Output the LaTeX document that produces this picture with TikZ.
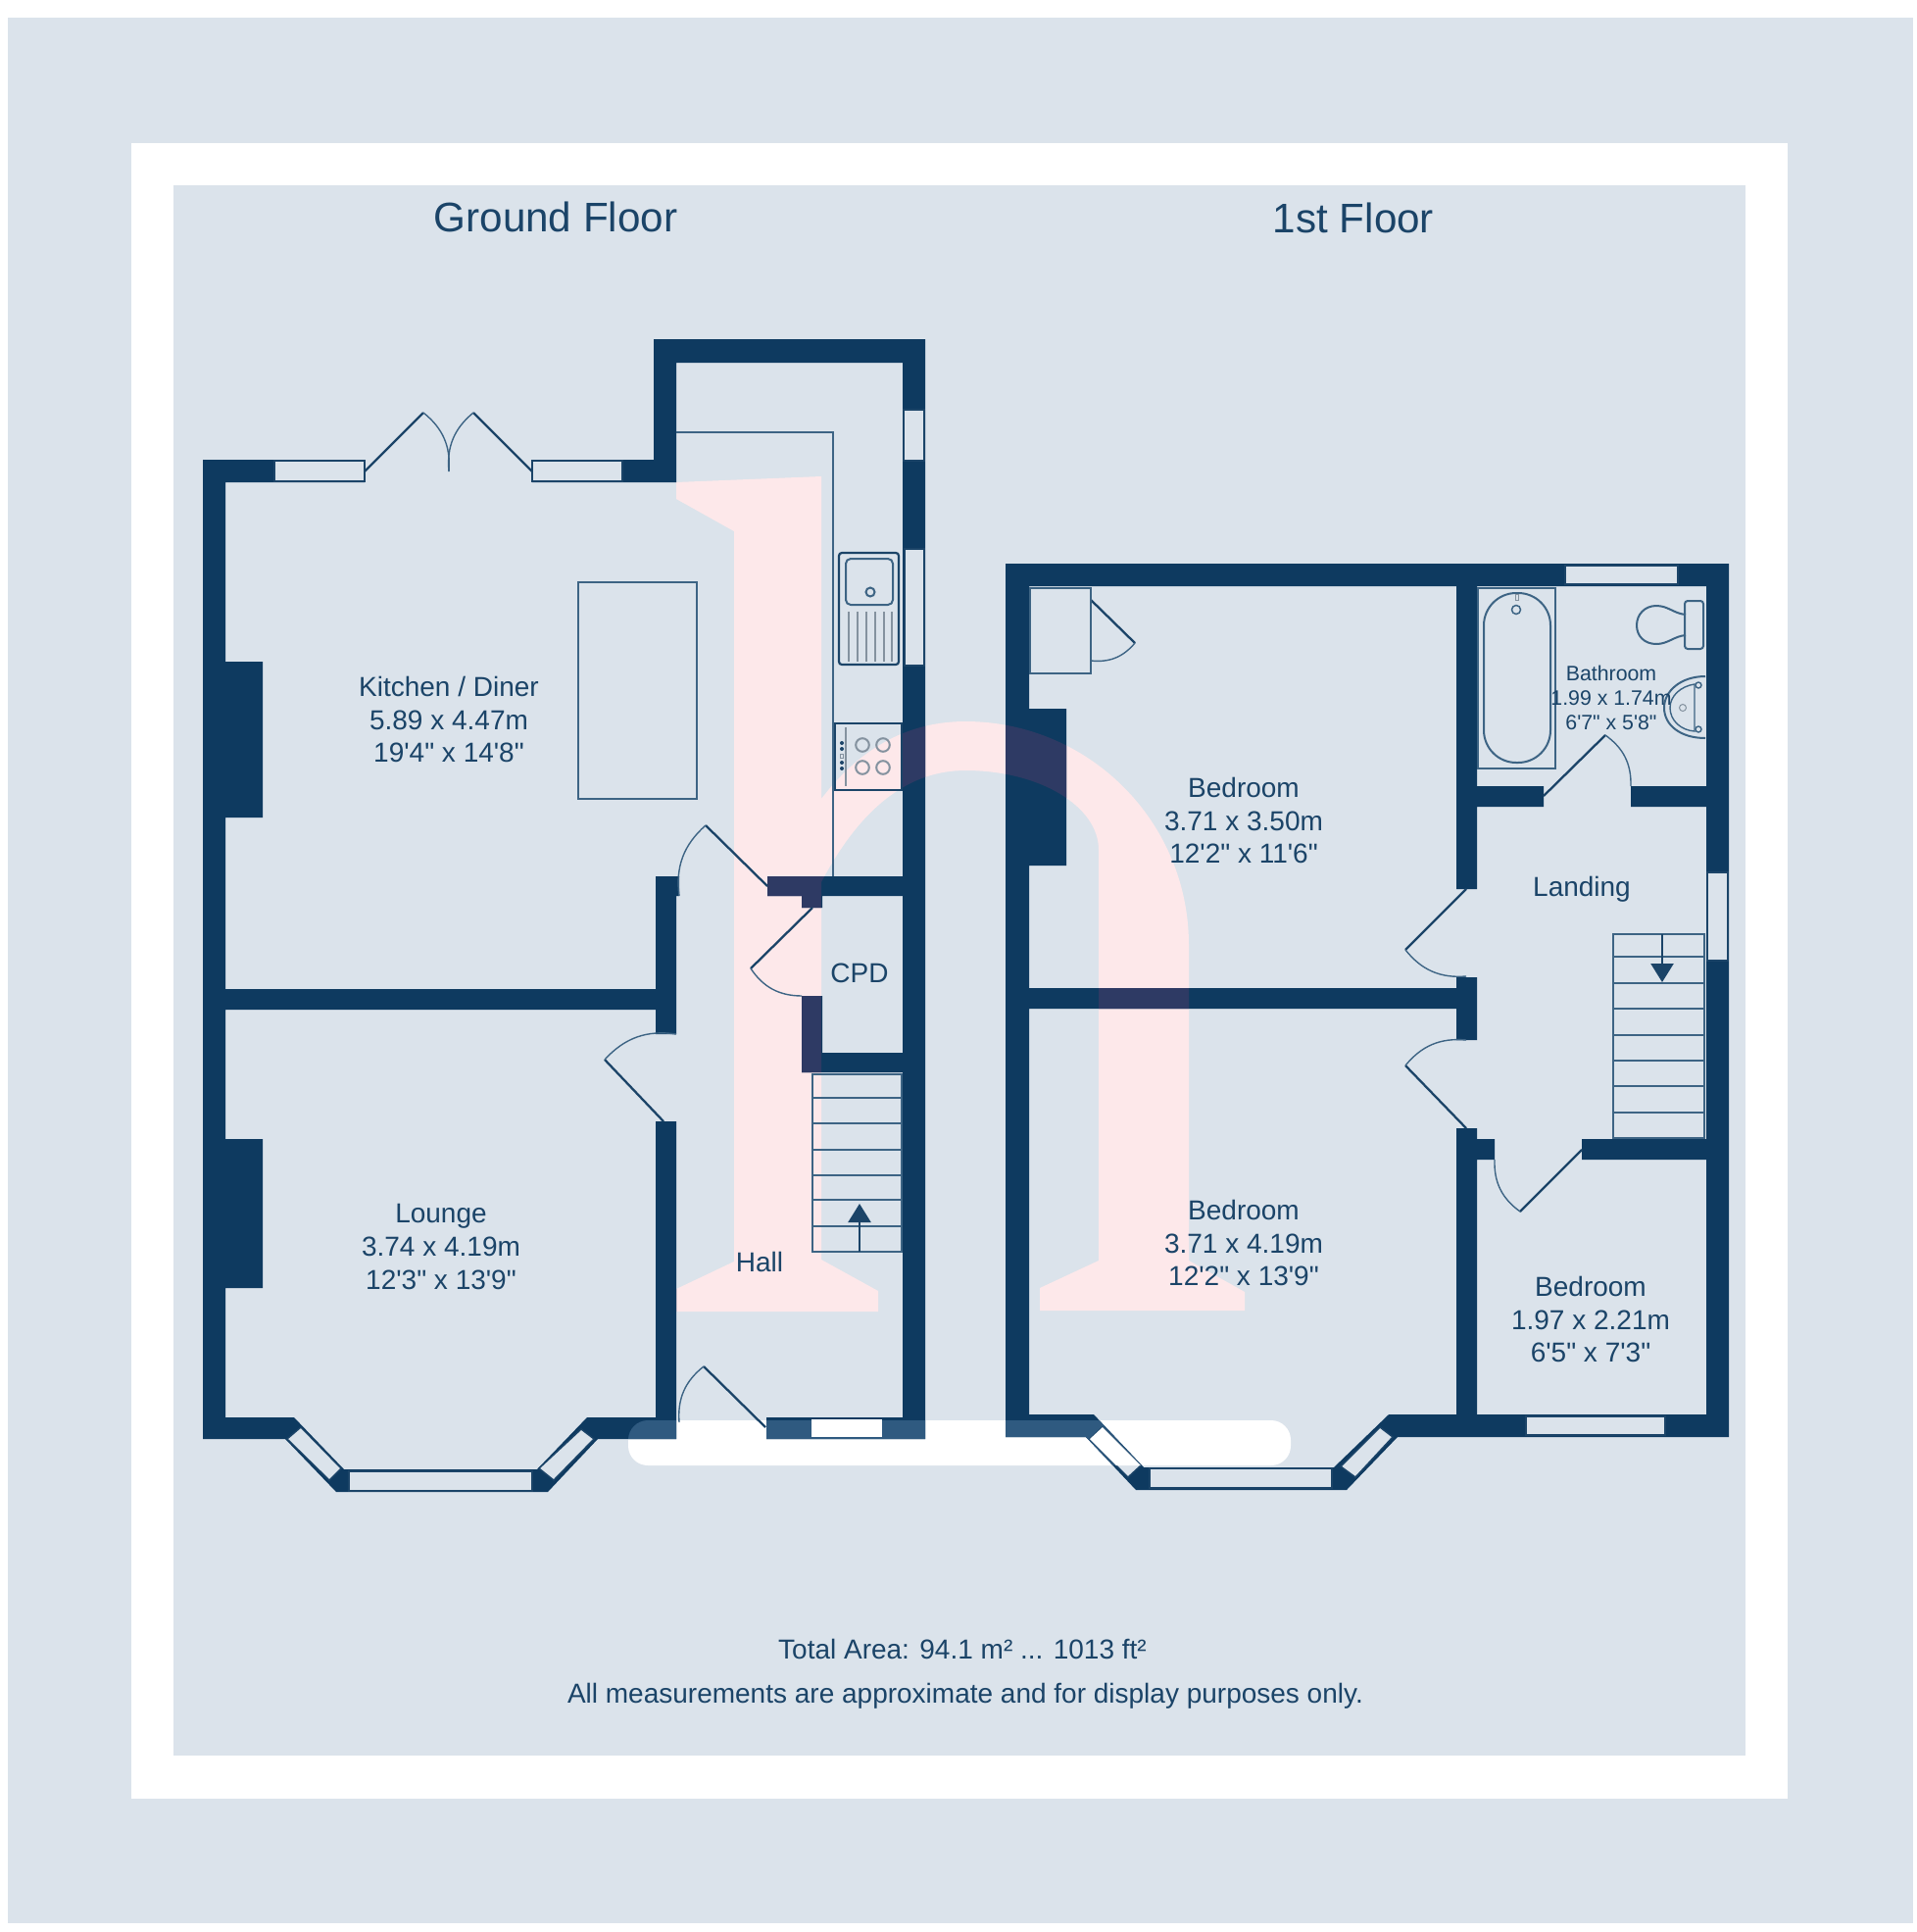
\documentclass[tikz,border=0pt]{standalone}
\usepackage{fontspec}
\usetikzlibrary{arrows.meta}
\newfontfamily\planfont{Liberation Sans}
\definecolor{panelcol}{HTML}{DBE3EB}
\definecolor{wallcol}{HTML}{0E3A60}
\definecolor{labelcol}{HTML}{1B4468}
\definecolor{linecol}{HTML}{3D6484}
\definecolor{graycol}{HTML}{84929F}
\definecolor{pinkcol}{HTML}{FDE8EA}
\definecolor{wallpink}{HTML}{2E3A64}
\definecolor{wallbar}{HTML}{2F5A80}
\tikzset{
  room/.style={align=center,inner sep=0pt,text=labelcol,font=\planfont\fontsize{28}{33.7}\selectfont},
  smallroom/.style={room,font=\planfont\fontsize{21.3}{25}\selectfont},
  title/.style={inner sep=0pt,text=labelcol,font=\planfont\fontsize{42.2}{50}\selectfont},
  note/.style={inner sep=0pt,text=labelcol,font=\planfont\fontsize{28}{33}\selectfont},
  thin line/.style={draw=linecol,line width=1.5pt},
  firm line/.style={draw=labelcol,line width=2.2pt},
  grey line/.style={draw=graycol,line width=1.7pt},
  leaf/.style={draw=labelcol,line width=2.3pt},
  swing/.style={draw=linecol,line width=1.4pt},
  glass/.style={fill=panelcol,draw=labelcol,line width=1.4pt},
  flight/.style={draw=labelcol,line width=2.4pt,-{Triangle[width=23pt,length=19pt]}}
}
\newcommand{\logopath}{
  (690,492) -- (838,486) -- (838,815) .. controls (880,760) and (930,736) .. (985,736)
  .. controls (1111,736) and (1213,838) .. (1213,964) -- (1213,1286) -- (1270,1318) -- (1270,1337)
  -- (1061,1337) -- (1061,1314) -- (1121,1286) -- (1121,867) .. controls (1121,822) and (1060,786) .. (985,786)
  .. controls (930,786) and (880,820) .. (838,900) -- (838,1285) -- (896,1317) -- (896,1338) -- (690,1338)
  -- (690,1315) -- (749,1287) -- (749,542) -- (690,509) -- cycle}
\newcommand{\barpath}{[rounded corners=20pt] (641,1449) rectangle (1317,1495)}
\newcommand{\allwalls}{
  (207,469) rectangle (230,1468) (207,469) rectangle (372,492) (543,469) rectangle (690,492)
  (667,346) rectangle (690,492) (667,346) rectangle (944,370) (921,346) rectangle (944,1468)
  (230,675) rectangle (268,834) (230,1162) rectangle (268,1314) (230,1009) rectangle (669,1030)
  (669,894) rectangle (690,1055) (669,894) rectangle (693,914) (669,1144) rectangle (690,1468)
  (783,894) rectangle (921,914) (818,914) rectangle (839,926) (818,1016) rectangle (839,1094)
  (818,1074) rectangle (921,1094) (782,1446) rectangle (921,1468)
  (207,1446) -- (207,1468) -- (291,1468) -- (343,1522) -- (559,1522) -- (610,1468) -- (690,1468)
  -- (690,1446) -- (599,1446) -- (548,1499) -- (351,1499) -- (300,1446) -- cycle
  (1026,575) rectangle (1764,598) (1026,575) rectangle (1050,1466) (1741,575) rectangle (1764,1466)
  (1486,575) rectangle (1507,907) (1486,997) rectangle (1507,1061) (1486,1151) rectangle (1507,1466)
  (1050,1008) rectangle (1486,1029) (1507,802) rectangle (1575,823) (1664,802) rectangle (1741,823)
  (1507,1162) rectangle (1525,1183) (1614,1162) rectangle (1741,1183) (1050,723) rectangle (1088,883)
  (1026,1443) -- (1026,1466) -- (1108,1466) -- (1159,1520) -- (1374,1520) -- (1426,1466) -- (1764,1466)
  -- (1764,1443) -- (1417,1443) -- (1361,1497) -- (1167,1497) -- (1116,1443) -- cycle}
\newcommand{\barewindow}{(1112,1468) -- (1125,1456) -- (1164,1495) -- (1151,1507) -- cycle}
\begin{document}
\begin{tikzpicture}[x=1pt,y=-1pt]
\useasboundingbox (0,0) rectangle (1956,1971);
\fill[white] (0,0) rectangle (1956,1971);
\fill[panelcol] (8,18) rectangle (1952,1962);
\fill[white] (134,146) rectangle (1824,1835);
\fill[panelcol] (177,189) rectangle (1781,1791);

\fill[pinkcol] \logopath;
\fill[white] \barpath;
\fill[wallcol] \allwalls;
\begin{scope}
\clip \logopath;
\fill[wallpink] \allwalls;
\end{scope}
\begin{scope}
\clip \barpath;
\fill[wallbar] \allwalls;
\end{scope}

\draw[glass] (280,470) rectangle (372,491);
\draw[glass] (543,470) rectangle (635,491);
\draw[glass] (922,418) rectangle (943,470);
\draw[glass] (923,560) rectangle (943,679);
\draw[glass] (293,1468) -- (307,1456) -- (348,1498) -- (336,1510) -- cycle;
\draw[glass] (606,1468) -- (593,1458) -- (550,1498) -- (565,1510) -- cycle;
\draw[glass] (356,1501) rectangle (543,1521);
\fill[white] (828,1448) rectangle (900,1466);
\draw[glass] (1597,577) rectangle (1712,596);
\draw[glass] (1742,890) rectangle (1763,980);
\draw[glass] (1557,1445) rectangle (1699,1464);
\draw[glass] \barewindow;
\begin{scope}
\clip \barpath;
\fill[white] \barewindow;
\end{scope}
\draw[glass] (1421,1466) -- (1408,1456) -- (1368,1496) -- (1383,1507) -- cycle;
\draw[glass] (1173,1498) rectangle (1359,1518);

\draw[leaf] (372,481) -- (432,421);
\draw[swing] (432,421) to[bend left=28] (458,481);
\draw[leaf] (543,481) -- (483,421);
\draw[swing] (483,421) to[bend right=28] (458,481);
\draw[leaf] (783,904) -- (720,842);
\draw[swing] (720,842) to[bend right=28] (693,914);
\draw[leaf] (829,926) -- (766,988);
\draw[swing] (766,988) to[bend right=28] (818,1016);
\draw[leaf] (677,1144) -- (617,1081);
\draw[swing] (617,1081) to[bend left=28] (690,1055);
\draw[leaf] (781,1456) -- (718,1394);
\draw[swing] (718,1394) to[bend right=28] (693,1451);
\draw[leaf] (1113,612) -- (1158,656);
\draw[swing] (1158,656) to[bend left=28] (1113,674);
\draw[leaf] (1575,812) -- (1638,750);
\draw[swing] (1638,750) to[bend left=28] (1664,802);
\draw[leaf] (1496,907) -- (1434,969);
\draw[swing] (1434,969) to[bend right=28] (1496,996);
\draw[leaf] (1496,1151) -- (1434,1087);
\draw[swing] (1434,1087) to[bend left=28] (1496,1061);
\draw[leaf] (1614,1173) -- (1551,1236);
\draw[swing] (1551,1236) to[bend left=28] (1525,1183);

\draw[thin line] (690,441) -- (850,441) -- (850,894);
\draw[thin line] (590,594) rectangle (711,815);
\draw[firm line,fill=panelcol,rounded corners=3pt] (856,564) rectangle (917,678);
\draw[thin line,line width=2pt,rounded corners=5pt] (863,570) rectangle (911,617);
\draw[thin line,line width=2pt] (888,604) circle (4.5pt);
\foreach \drainx in {866,875,884,893,902,910}
  \draw[grey line] (\drainx,624) -- (\drainx,675);
\draw[firm line] (852,738) rectangle (920,806);
\draw[grey line] (863,742) -- (863,802);
\foreach \dotsy in {758,764,778,784}
  \fill[labelcol] (859,\dotsy) circle (2pt);
\draw[grey line,line width=1pt] (857.5,769) rectangle (860.5,773);
\foreach \ringx in {880,901}
  \foreach \ringy in {760,783}
    \draw[grey line,line width=2pt] (\ringx,\ringy) circle (6.8pt);

\draw[thin line] (829,1096) rectangle (920,1277);
\foreach \treadg in {1120,1146,1173,1199,1224,1251}
  \draw[thin line] (829,\treadg) -- (920,\treadg);
\draw[flight] (877,1277) -- (877,1228);
\draw[thin line] (1646,953) rectangle (1739,1161);
\foreach \treadf in {976,1003,1029,1056,1082,1108,1135}
  \draw[thin line] (1646,\treadf) -- (1739,\treadf);
\draw[flight] (1696,953) -- (1696,1002);

\draw[thin line] (1051,600) rectangle (1113,687);
\draw[thin line,line width=2pt] (1508,600) rectangle (1587,784);
\draw[thin line,line width=2pt,rounded corners=33pt] (1514,605) rectangle (1582,778);
\draw[thin line] (1547,622) circle (4.5pt);
\draw[grey line,line width=1pt] (1546,606) rectangle (1549,612);
\draw[thin line,line width=2pt,rounded corners=3pt] (1719,613) rectangle (1738,662);
\draw[thin line,line width=2pt] (1720,627) .. controls (1708,626) and (1702,618) .. (1690,618) .. controls (1678,618) and (1670,627) .. (1670,638) .. controls (1670,649) and (1678,657) .. (1690,657) .. controls (1702,657) and (1708,649) .. (1720,648);
\draw[thin line,line width=2pt] (1740,690) .. controls (1715,690) and (1698,705) .. (1698,722) .. controls (1698,740) and (1715,753) .. (1740,753);
\draw[swing] (1729,698) .. controls (1715,700) and (1704,710) .. (1704,722) .. controls (1704,735) and (1715,745) .. (1729,746) -- cycle;
\draw[swing] (1733,699) circle (3pt) (1733,744) circle (3pt);
\draw[grey line,line width=1pt] (1717,722) circle (3.5pt);

\node[title] (groundtitle) at (567,221) {Ground Floor};
\node[title] (firsttitle) at (1381,222) {1st Floor};
\node[room] (kitchen) at (458,734) {Kitchen / Diner\\5.89 x 4.47m\\19'4" x 14'8"};
\node[room] (lounge) at (450,1272) {Lounge\\3.74 x 4.19m\\12'3" x 13'9"};
\node[room] (hall) at (775,1287) {Hall};
\node[room] (cpd) at (877,993) {CPD};
\node[room] (bedfront) at (1269,1268) {Bedroom\\3.71 x 4.19m\\12'2" x 13'9"};
\node[room] (bedback) at (1269,837) {Bedroom\\3.71 x 3.50m\\12'2" x 11'6"};
\node[room] (bedsmall) at (1623,1346) {Bedroom\\1.97 x 2.21m\\6'5" x 7'3"};
\node[room] (landing) at (1614,907) {Landing};
\node[smallroom] (bathroom) at (1644,712) {Bathroom\\1.99 x 1.74m\\6'7" x 5'8"};
\node[note] (area) at (982,1682) {Total Area: 94.1 m² ... 1013 ft²};
\node[note] (notice) at (985,1730) {All measurements are approximate and for display purposes only.};
\end{tikzpicture}
\end{document}
